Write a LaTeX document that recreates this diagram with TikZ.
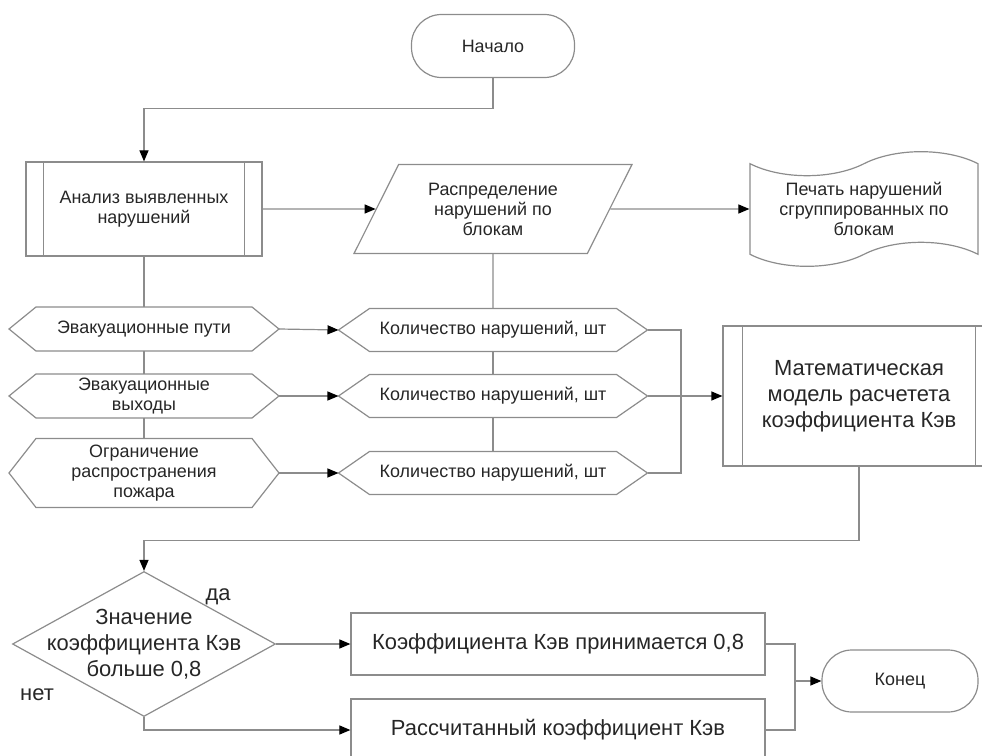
\documentclass[tikz,border=0pt]{standalone}
\usepackage{fontspec}
\setmainfont{Liberation Sans}
\usetikzlibrary{shapes.geometric, shapes.symbols, arrows.meta, calc}

\begin{document}
\begin{tikzpicture}[
    x=0.5bp, y=-0.5bp,
    every node/.style={font=\fontsize{9}{10}\selectfont, text=black!85},
    bigtxt/.style={font=\fontsize{11}{13}\selectfont},
    lin/.style={draw=black!45, line width=0.6bp},
    term/.style={lin, rectangle, rounded corners=15bp, minimum width=81.5bp, minimum height=31.5bp},
    proc/.style={lin, rectangle, align=center, inner sep=2bp},
    io/.style={lin, trapezium, trapezium left angle=63.4, trapezium right angle=116.6, trapezium stretches body, minimum width=139bp, inner xsep=1bp, inner ysep=9.2bp, align=center},
    doc/.style={lin, tape, tape bend height=12bp, minimum width=114bp, minimum height=57bp, align=center},
    hexa/.style={rectangle, align=center, inner sep=0.5bp, outer sep=0pt},
    decis/.style={lin, diamond, shape aspect=1.8, inner xsep=-15bp, inner ysep=-5bp, minimum width=131.5bp, minimum height=72.5bp, align=center, bigtxt},
    arr/.style={lin, -{Triangle[length=5.5bp, width=4.5bp, color=black]}}
]
\useasboundingbox (0,0) rectangle (982,756);
\clip (0,0) rectangle (982,756);

% ----- верхний ряд -----
\node[term] (start) at (493,46) {Начало};
\node[proc, minimum width=118bp, minimum height=47bp] (anal) at (144,209) {Анализ выявленных\\нарушений};
\node[io] (distr) at (493,209) {Распределение\\нарушений по\\блокам};
\node[doc] (print) at (864,209) {Печать нарушений\\сгруппированных по\\блокам};

% ----- блоки нарушений -----
\node[hexa, minimum width=108bp, minimum height=22bp] (h1) at (144,329) {Эвакуационные пути};
\node[hexa, minimum width=108bp, minimum height=22bp] (h2) at (144,396) {Эвакуационные\\выходы};
\node[hexa, minimum width=108bp, minimum height=34.5bp] (h3) at (144,473) {Ограничение\\распространения\\пожара};
\node[hexa, minimum width=123.5bp, minimum height=21.5bp] (k1) at (493,330) {Количество нарушений, шт};
\node[hexa, minimum width=123.5bp, minimum height=21.5bp] (k2) at (493,396) {Количество нарушений, шт};
\node[hexa, minimum width=123.5bp, minimum height=21.5bp] (k3) at (493,473) {Количество нарушений, шт};

\foreach \n/\d in {h1/13.5bp, h2/13.5bp, h3/13.5bp, k1/15.5bp, k2/15.5bp, k3/15.5bp} {
  \coordinate (\n-w) at ([xshift=-\d]\n.west);
  \coordinate (\n-e) at ([xshift=\d]\n.east);
  \draw[lin] (\n.north west) -- (\n.north east) -- (\n-e) -- (\n.south east)
    -- (\n.south west) -- (\n-w) -- cycle;
}

\node[proc, bigtxt, minimum width=136bp, minimum height=70bp] (model) at (859,396) {Математическая\\модель расчетета\\коэффициента Кэв};

% боковые линии подпрограмм
\foreach \n/\d in {anal/9bp, model/10bp} {
  \draw[lin] ([xshift=\d]\n.north west) -- ([xshift=\d]\n.south west);
  \draw[lin] ([xshift=-\d]\n.north east) -- ([xshift=-\d]\n.south east);
}

% ----- нижний ряд -----
\node[decis] (dec) at (144,644) {Значение\\коэффициента Кэв\\больше 0,8};
\node[proc, bigtxt, minimum width=207bp, minimum height=31bp] (yes) at (558,644) {Коэффициента Кэв принимается 0,8};
\node[proc, bigtxt, minimum width=207bp, minimum height=31bp] (no) at (558,730) {Рассчитанный коэффициент Кэв};
\node[term, minimum width=78bp, minimum height=31bp] (end) at (900,681) {Конец};
\node[bigtxt] (lyes) at (218,597) {да};
\node[bigtxt] (lno) at (37,695) {нет};

% ----- связи -----
\draw[arr] (start.south) -- ++(0,30) -| (anal.north);
\draw[arr] (anal) -- (distr);
\draw[arr] (distr) -- (print);
\draw[lin] (anal) -- (h1);
\draw[lin] (h1) -- (h2);
\draw[lin] (h2) -- (h3);
\draw[lin] (distr) -- (k1);
\draw[lin] (k1) -- (k2);
\draw[lin] (k2) -- (k3);
\draw[arr] (h1-e) -- (k1-w);
\draw[arr] (h2-e) -- (k2-w);
\draw[arr] (h3-e) -- (k3-w);
\coordinate (bus) at (681,396);
\draw[lin] (k1-e) -| (bus) |- (k3-e);
\draw[arr] (k2-e) -- (model.west);
\draw[arr] (model.south) -- ++(0,74) -| (dec.north);
\draw[arr] (dec.east) -- (yes.west);
\draw[arr] (dec.south) |- (no.west);
\coordinate (merge) at (795,681);
\draw[lin] (yes.east) -| (merge) |- (no.east);
\draw[arr] (merge) -- (end.west);

\end{tikzpicture}
\end{document}
